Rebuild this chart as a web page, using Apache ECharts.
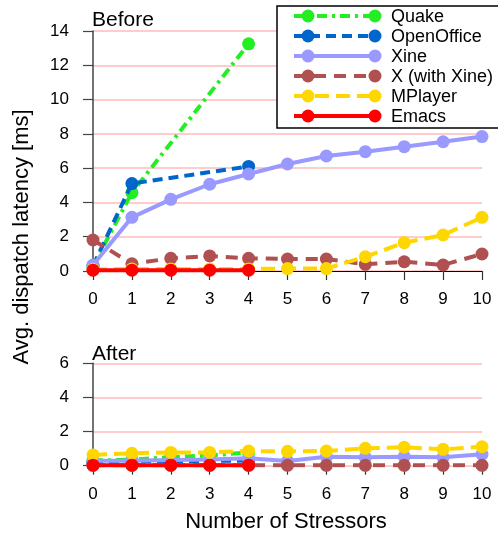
<!DOCTYPE html>
<html>
<head>
<meta charset="utf-8">
<script src="https://cdn.jsdelivr.net/npm/echarts@6/dist/echarts.min.js"></script>
<style>html,body{margin:0;padding:0;background:#fff}#c{width:498px;height:533px}</style>
</head>
<body>
<div id="c"></div>
<script>
// ---- data ----
var stressors = [0, 1, 2, 3, 4, 5, 6, 7, 8, 9, 10];
var seriesNames = ['Quake', 'OpenOffice', 'Xine', 'X (with Xine)', 'MPlayer', 'Emacs'];

var beforeQuakeX = [0, 1, 4];
var beforeQuake = [0.3, 4.57, 13.25];
var beforeOpenOfficeX = [0, 1, 4];
var beforeOpenOffice = [0.3, 5.1, 6.1];
var beforeXine = [0.35, 3.13, 4.18, 5.06, 5.66, 6.24, 6.71, 6.96, 7.25, 7.54, 7.84];
var beforeXwithXine = [1.81, 0.42, 0.74, 0.88, 0.74, 0.70, 0.70, 0.39, 0.54, 0.35, 0.99];
var beforeMPlayer = [0.1, 0.12, 0.12, 0.12, 0.12, 0.14, 0.14, 0.83, 1.65, 2.10, 3.13];
var beforeEmacsX = [0, 1, 2, 3, 4];
var beforeEmacs = [0.05, 0.05, 0.05, 0.05, 0.05];

var afterQuakeX = [0, 1, 2, 3, 4];
var afterQuake = [0.3, 0.35, 0.5, 0.6, 0.78];
var afterOpenOfficeX = [0, 1, 4];
var afterOpenOffice = [0.2, 0.25, 0.3];
var afterXine = [0.29, 0.29, 0.33, 0.37, 0.43, 0.27, 0.53, 0.49, 0.53, 0.49, 0.67];
var afterXwithXine = [0.02, 0.02, 0.02, 0.02, 0.02, 0.02, 0.02, 0.02, 0.02, 0.02, 0.02];
var afterMPlayer = [0.63, 0.73, 0.78, 0.78, 0.86, 0.84, 0.86, 1.02, 1.08, 0.96, 1.11];
var afterEmacsX = [0, 1, 2, 3, 4];
var afterEmacs = [0.03, 0.03, 0.03, 0.03, 0.03];

var beforeYMax = 14;
var afterYMax = 6;
var yTickStep = 2;

// ---- styles ----
var colors = ['#22ee22', '#0066cc', '#9999ff', '#b05050', '#ffd700', '#ff0000'];
var dashes = [[10, 5, 3, 5], [10, 6], 'solid', [12, 8], [14, 7], 'solid'];
var FONT = 'Liberation Sans, Arial, sans-serif';

function pairs(xs, ys) { return ys.map(function (v, i) { return [xs[i], v]; }); }

var beforeData = [
  pairs(beforeQuakeX, beforeQuake),
  pairs(beforeOpenOfficeX, beforeOpenOffice),
  pairs(stressors, beforeXine),
  pairs(stressors, beforeXwithXine),
  pairs(stressors, beforeMPlayer),
  pairs(beforeEmacsX, beforeEmacs)
];
var afterData = [
  pairs(afterQuakeX, afterQuake),
  pairs(afterOpenOfficeX, afterOpenOffice),
  pairs(stressors, afterXine),
  pairs(stressors, afterXwithXine),
  pairs(stressors, afterMPlayer),
  pairs(afterEmacsX, afterEmacs)
];

var series = [];
[beforeData, afterData].forEach(function (set, g) {
  set.forEach(function (d, i) {
    series.push({
      name: seriesNames[i], type: 'line', xAxisIndex: g, yAxisIndex: g, data: d,
      symbol: 'circle', symbolSize: 13, z: 2 + i,
      itemStyle: { color: colors[i] },
      lineStyle: { color: colors[i], width: 4, type: dashes[i] },
      animation: false
    });
  });
});

function xAxis(idx, showLine) {
  return {
    type: 'value', gridIndex: idx, min: 0, max: 10, interval: 1,
    axisLine: { show: showLine, onZero: false, lineStyle: { color: '#000', width: 1.2 } },
    axisTick: { show: true, inside: false, length: 9, lineStyle: { color: '#333', width: 1.2 } },
    axisLabel: { color: '#000', fontSize: 17, fontFamily: FONT, margin: 20 },
    splitLine: { show: false }
  };
}
function yAxis(idx, max) {
  return {
    type: 'value', gridIndex: idx, min: 0, max: max, interval: yTickStep,
    axisLine: { show: true, lineStyle: { color: '#444', width: 1.5 } },
    axisTick: { show: true, inside: false, length: 10, lineStyle: { color: '#444', width: 1.2 } },
    axisLabel: { color: '#000', fontSize: 17, fontFamily: FONT, margin: 24 },
    splitLine: { show: true, lineStyle: { color: '#ffcccc', width: 2 } }
  };
}

// legend drawn as graphic
var legendEls = [{
  type: 'rect', shape: { x: 277, y: 6, width: 240, height: 122 },
  style: { fill: '#fff', stroke: '#000', lineWidth: 1.5 }, z: 100
}];
seriesNames.forEach(function (n, i) {
  var y = 16 + 20 * i;
  var dash = dashes[i] === 'solid' ? null : dashes[i];
  legendEls.push({ type: 'line', shape: { x1: 294, y1: y, x2: 378, y2: y },
    style: { stroke: colors[i], lineWidth: 4, lineDash: dash }, z: 101 });
  legendEls.push({ type: 'circle', shape: { cx: 308, cy: y, r: 6.5 }, style: { fill: colors[i] }, z: 102 });
  legendEls.push({ type: 'circle', shape: { cx: 375, cy: y, r: 6.5 }, style: { fill: colors[i] }, z: 102 });
  legendEls.push({ type: 'text', x: 391, y: y + 1, style: { text: n, fill: '#000', font: '18px ' + FONT, textVerticalAlign: 'middle', verticalAlign: 'middle' }, z: 102 });
});

var option = {
  backgroundColor: '#fff',
  animation: false,
  grid: [
    { left: 93, right: 16, top: 31, height: 240 },
    { left: 93, right: 16, top: 363.3, height: 102.4 }
  ],
  xAxis: [xAxis(0, true), xAxis(1, false)],
  yAxis: [yAxis(0, beforeYMax), yAxis(1, afterYMax)],
  series: series,
  graphic: legendEls.concat([
    { type: 'text', x: 92, y: 20, style: { text: 'Before', fill: '#000', font: '21px ' + FONT, verticalAlign: 'middle', textVerticalAlign: 'middle' }, z: 50 },
    { type: 'text', x: 92, y: 354, style: { text: 'After', fill: '#000', font: '21px ' + FONT, verticalAlign: 'middle', textVerticalAlign: 'middle' }, z: 50 },
    { type: 'text', x: 286, y: 522, style: { text: 'Number of Stressors', fill: '#000', font: '22px ' + FONT, align: 'center', textAlign: 'center', verticalAlign: 'middle', textVerticalAlign: 'middle' }, z: 50 },
    { type: 'text', x: 22, y: 237, rotation: Math.PI / 2, style: { text: 'Avg. dispatch latency [ms]', fill: '#000', font: '22px ' + FONT, align: 'center', textAlign: 'center', verticalAlign: 'middle', textVerticalAlign: 'middle' }, z: 50 }
  ])
};

var chart = echarts.init(document.getElementById('c'), null, { renderer: 'canvas' });
chart.setOption(option);
</script>
</body>
</html>
